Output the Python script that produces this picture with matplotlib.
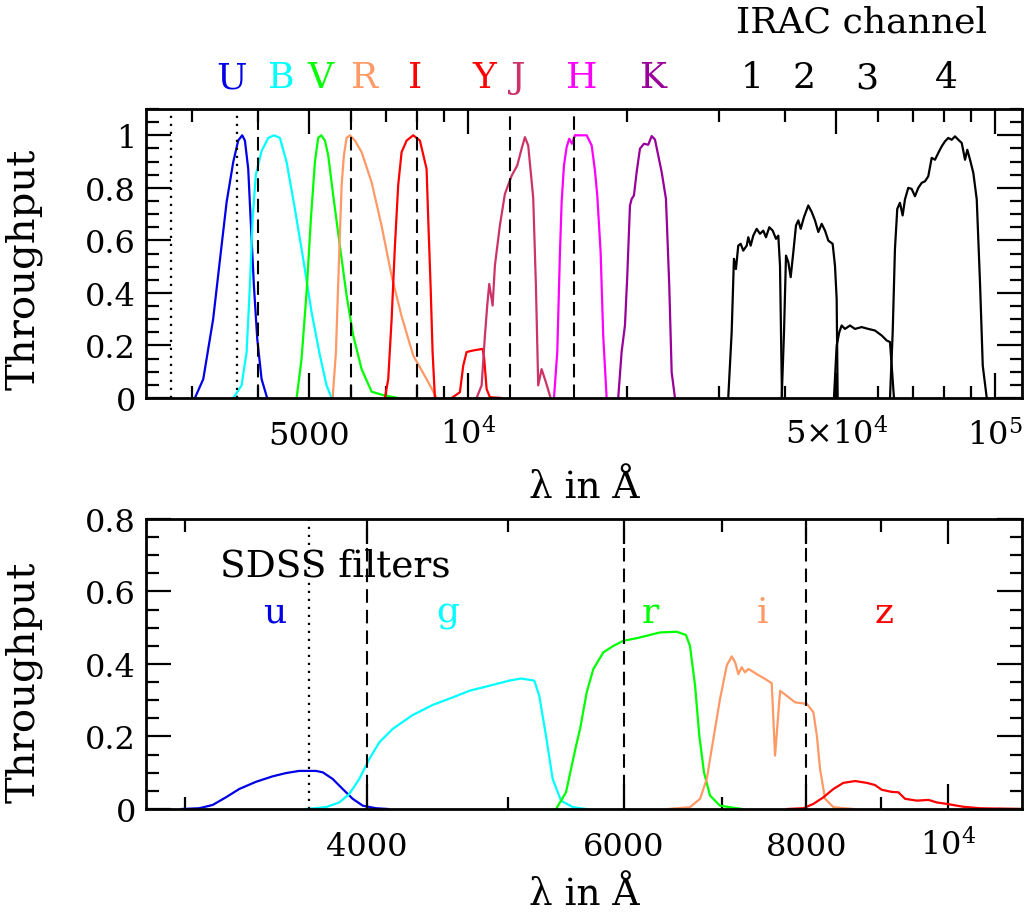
"""Broadband filter throughput curves: UBVRIYJHK + IRAC (top), SDSS ugriz (bottom)."""

import matplotlib
matplotlib.use("Agg")
import matplotlib.pyplot as plt
import matplotlib.transforms as mtransforms
from matplotlib.ticker import NullFormatter

plt.rcParams["font.family"] = ["DejaVu Serif"]
plt.rcParams["mathtext.fontset"] = "dejavuserif"

# ---- top panel: Johnson/Cousins + NIR + IRAC (wavelength in Angstrom) ----
U_wave = [3034, 3147, 3286, 3409, 3485, 3587, 3666, 3730, 3775, 3830, 3870, 3926, 3984, 4060, 4160]
U_thru = [0, 0.072, 0.301, 0.580, 0.746, 0.898, 0.980, 1.0, 0.98, 0.872, 0.682, 0.428, 0.225, 0.072, 0]

B_wave = [3587, 3720, 3803, 3858, 3904, 3960, 4060, 4180, 4285, 4399, 4529, 4696, 4869, 5051, 5238, 5393, 5513]
B_thru = [0, 0.048, 0.175, 0.428, 0.682, 0.851, 0.94, 0.99, 1.0, 0.99, 0.898, 0.72, 0.53, 0.327, 0.162, 0.048, 0]

V_wave = [4732, 4835, 4942, 5036, 5125, 5198, 5268, 5355, 5432, 5552, 5715, 5886, 6059, 6285, 6566, 6907, 7374]
V_thru = [0, 0.15, 0.403, 0.682, 0.898, 0.99, 1.0, 0.98, 0.923, 0.771, 0.58, 0.39, 0.238, 0.11, 0.024, 0.011, 0]

R_wave = [5538, 5618, 5700, 5760, 5817, 5886, 5972, 6104, 6285, 6566, 6859, 7166, 7485, 7874, 8348, 8723]
R_thru = [0, 0.175, 0.555, 0.81, 0.923, 0.99, 1.0, 0.98, 0.936, 0.821, 0.655, 0.464, 0.311, 0.162, 0.072, 0]

I_wave = [6958, 7060, 7166, 7270, 7374, 7485, 7651, 7874, 8108, 8348, 8408, 8495, 8570, 8658]
I_thru = [0, 0.072, 0.301, 0.58, 0.81, 0.936, 0.98, 1.0, 0.98, 0.872, 0.682, 0.428, 0.175, 0]

Y_wave = [9313, 9656, 9797, 9943, 10235, 10664, 10738, 10851, 11008, 11586]
Y_thru = [0, 0.022, 0.123, 0.175, 0.181, 0.187, 0.149, 0.034, 0.003, 0]

J_wave = [10387, 10617, 10772, 10880, 10976, 11140, 11251, 11499, 11754, 12105,
          12403, 12644, 12828, 13014, 13301, 13459, 13595, 13798, 14060, 14352]
J_thru = [0, 0.048, 0.238, 0.352, 0.434, 0.352, 0.504, 0.657, 0.777, 0.846,
          0.885, 0.949, 0.993, 0.961, 0.762, 0.428, 0.048, 0.11, 0.06, 0]

H_wave = [14565, 14775, 14950, 15060, 15213, 15392, 15567, 15751, 15959, 16801,
          17173, 17418, 17597, 17856, 18059, 18331]
H_thru = [0, 0.175, 0.555, 0.746, 0.885, 0.955, 0.987, 0.968, 1.0, 1.0,
          0.961, 0.866, 0.771, 0.555, 0.238, 0]

K_wave = [19283, 19570, 19860, 20062, 20299, 20451, 20654, 20899, 21203, 21577,
          21985, 22316, 22639, 22969, 23313, 23755, 24099, 24353, 24708]
K_thru = [0, 0.175, 0.277, 0.467, 0.733, 0.758, 0.771, 0.86, 0.949, 0.968,
          0.964, 0.997, 0.984, 0.923, 0.86, 0.758, 0.428, 0.098, 0]

IRAC1_wave = [31182, 31652, 31968, 32249, 32578, 32924, 33298, 33800, 34035, 34390, 34788,
              35305, 35821, 36338, 36774, 37306, 37868, 38415, 38805, 39094, 39265, 39437]
IRAC1_thru = [0, 0.25, 0.53, 0.491, 0.58, 0.587, 0.561, 0.58, 0.612, 0.58, 0.618,
              0.644, 0.625, 0.637, 0.612, 0.65, 0.637, 0.606, 0.618, 0.504, 0.25, 0]

IRAC2_wave = [39385, 39784, 40134, 40540, 40962, 41436, 41926, 42352, 42794, 43418, 44237,
              44903, 45553, 46217, 46904, 47591, 48287, 49204, 49706, 50074, 50294]
IRAC2_thru = [0, 0.25, 0.542, 0.517, 0.46, 0.555, 0.657, 0.676, 0.644, 0.689, 0.733,
              0.708, 0.676, 0.632, 0.663, 0.637, 0.599, 0.587, 0.504, 0.377, 0]

IRAC3_wave = [49487, 50074, 50642, 51179, 51933, 53079, 54244, 55847, 57489, 59190,
              60954, 62301, 63213, 63681, 64316]
IRAC3_thru = [0, 0.199, 0.25, 0.276, 0.263, 0.276, 0.263, 0.27, 0.263, 0.257,
              0.238, 0.219, 0.213, 0.123, 0]

IRAC4_wave = [63213, 63961, 64598, 65252, 66022, 66802, 67483, 68469, 69485, 70500,
              71532, 72594, 73659, 74720, 75846, 76940, 78063, 79239, 80380, 81555,
              82764, 83975, 85204, 86472, 87736, 88610, 89675, 90967, 92339, 93669,
              94798, 96466]
IRAC4_thru = [0, 0.25, 0.568, 0.72, 0.743, 0.695, 0.756, 0.8, 0.796, 0.768,
              0.8, 0.819, 0.825, 0.844, 0.914, 0.907, 0.933, 0.958, 0.977, 0.99,
              0.983, 0.996, 0.983, 0.971, 0.907, 0.945, 0.907, 0.857, 0.756, 0.438,
              0.123, 0]

top_names = ["U", "B", "V", "R", "I", "Y", "J", "H", "K"]
top_colors = ["#0000e6", "#00ffff", "#00ff00", "#ff9966", "#ff0000",
              "#ff0000", "#cc3366", "#ff00ff", "#990099"]
top_label_pos = [3566, 4418, 5261, 6376, 7932, 10724, 12439, 16456, 22534]
irac_names = ["1", "2", "3", "4"]
irac_label_pos = [34588, 43404, 57160, 80724]

top_dotted = [2730, 3645]
top_dashed = [4000, 6000, 8000, 12000, 15900]

# ---- bottom panel: SDSS ----
u_wave = [2988, 3070, 3136, 3202, 3270, 3358, 3447, 3520, 3595, 3691, 3731, 3789,
          3850, 3911, 3974, 4058, 4133]
u_thru = [0, 0.002, 0.011, 0.032, 0.055, 0.075, 0.09, 0.099, 0.105, 0.105, 0.101, 0.083,
          0.055, 0.028, 0.009, 0.002, 0]

g_wave = [3634, 3750, 3829, 3890, 3952, 4015, 4079, 4166, 4299, 4437, 4580, 4701,
          4852, 5007, 5100, 5208, 5249, 5305, 5361, 5432, 5534, 5651]
g_thru = [0, 0.005, 0.018, 0.041, 0.083, 0.138, 0.184, 0.221, 0.259, 0.287, 0.308, 0.326,
          0.34, 0.354, 0.36, 0.354, 0.312, 0.202, 0.083, 0.023, 0.005, 0]

r_wave = [5390, 5475, 5563, 5598, 5657, 5716, 5807, 5900, 5993, 6121, 6219,
          6350, 6519, 6615, 6657, 6711, 6756, 6806, 6871, 6980, 7222]
r_thru = [0, 0.046, 0.175, 0.221, 0.322, 0.386, 0.432, 0.45, 0.464, 0.471, 0.478,
          0.487, 0.489, 0.48, 0.45, 0.34, 0.202, 0.101, 0.037, 0.009, 0]

i_wave = [6434, 6657, 6764, 6836, 6907, 6980, 7055, 7110, 7148, 7185, 7222, 7261, 7299, 7338,
          7396, 7493, 7573, 7613, 7674, 7756, 7858, 8004, 8087, 8132, 8173, 8238, 8346, 8613]
i_thru = [0, 0.005, 0.028, 0.083, 0.193, 0.303, 0.396, 0.421, 0.405, 0.372, 0.391, 0.377, 0.386, 0.381,
          0.372, 0.359, 0.347, 0.147, 0.326, 0.312, 0.294, 0.29, 0.267, 0.202, 0.11, 0.028, 0.005, 0]

z_wave = [7760, 7960, 8087, 8215, 8346, 8479, 8637, 8799, 8913, 9008,
          9152, 9247, 9346, 9520, 9697, 9824, 9982, 10245, 10520, 11204]
z_thru = [0, 0.002, 0.014, 0.032, 0.055, 0.072, 0.077, 0.072, 0.066, 0.053,
          0.047, 0.046, 0.028, 0.023, 0.025, 0.018, 0.014, 0.006, 0.002, 0]

sdss_names = ["u", "g", "r", "i", "z"]
sdss_colors = ["#0000e6", "#00ffff", "#00ff00", "#ff9966", "#ff0000"]
sdss_label_pos = [3460, 4546, 6251, 7459, 9042]

bot_dotted = [3650]
bot_dashed = [4000, 6000, 8000]

LABEL_FS = 26
YLABEL_FS = 29
TICK_FS = 23
DOTTED = (0, (1, 2.6))
DASHED = (0, (6.5, 3.4))


def style_axes(ax):
    for s in ax.spines.values():
        s.set_linewidth(2)
    ax.tick_params(which="both", direction="in", top=True, right=True, width=1.6,
                   labelsize=TICK_FS)
    ax.tick_params(which="major", length=18)
    ax.tick_params(which="minor", length=9)
    ax.tick_params(axis="x", which="major", pad=33)
    ax.tick_params(axis="y", which="major", pad=7)
    ax.xaxis.set_minor_formatter(NullFormatter())


fig = plt.figure(figsize=(10.33, 9.2), dpi=100)
ax1 = fig.add_axes([0.1413, 0.5663, 0.8480, 0.3141])
ax2 = fig.add_axes([0.1413, 0.1196, 0.8480, 0.3152])

# ---- top ----
top_curves = [(U_wave, U_thru), (B_wave, B_thru), (V_wave, V_thru), (R_wave, R_thru),
              (I_wave, I_thru), (Y_wave, Y_thru), (J_wave, J_thru), (H_wave, H_thru),
              (K_wave, K_thru)]
for (w, t), c in zip(top_curves, top_colors):
    ax1.plot(w, t, color=c, lw=1.6)
for w, t in [(IRAC1_wave, IRAC1_thru), (IRAC2_wave, IRAC2_thru),
             (IRAC3_wave, IRAC3_thru), (IRAC4_wave, IRAC4_thru)]:
    ax1.plot(w, t, color="black", lw=1.6)
for x in top_dotted:
    ax1.axvline(x, color="black", lw=1.6, ls=DOTTED)
for x in top_dashed:
    ax1.axvline(x, color="black", lw=1.5, ls=DASHED)

ax1.set_xscale("log")
ax1.set_xlim(2450, 112500)
ax1.set_ylim(0, 1.1)
style_axes(ax1)
ax1.set_xticks([5000, 1e4, 5e4, 1e5],
               ["5000", r"$10^4$", r"$5{\times}10^4$", r"$10^5$"], va="baseline")
ax1.set_xticks([3000, 4000, 6000, 7000, 8000, 9000, 2e4, 3e4, 4e4, 6e4, 7e4, 8e4, 9e4],
               minor=True)
ax1.xaxis.set_minor_formatter(NullFormatter())
ax1.set_yticks([0, 0.2, 0.4, 0.6, 0.8, 1.0], ["0", "0.2", "0.4", "0.6", "0.8", "1"])
ax1.set_yticks([k * 0.05 for k in range(23)], minor=True)
ax1.set_ylabel("Throughput", fontsize=YLABEL_FS)
ax1.yaxis.set_label_coords(-0.118, 0.45)
ax1.text(0.5, -0.308, "λ in Å", transform=ax1.transAxes, ha="center", va="center",
         fontsize=27)

trans1 = mtransforms.blended_transform_factory(ax1.transData, ax1.transAxes)
for name, c, x in zip(top_names, top_colors, top_label_pos):
    ax1.text(x, 1.076, name, color=c, transform=trans1, ha="center", va="baseline",
             fontsize=LABEL_FS, clip_on=False)
for name, x in zip(irac_names, irac_label_pos):
    ax1.text(x, 1.076, name, color="black", transform=trans1, ha="center", va="baseline",
             fontsize=LABEL_FS, clip_on=False)
ax1.text(55900, 1.27, "IRAC channel", transform=trans1, ha="center", va="baseline",
         fontsize=LABEL_FS, clip_on=False)

# ---- bottom ----
for (w, t), c in zip([(u_wave, u_thru), (g_wave, g_thru), (r_wave, r_thru),
                      (i_wave, i_thru), (z_wave, z_thru)], sdss_colors):
    ax2.plot(w, t, color=c, lw=1.6)
for x in bot_dotted:
    ax2.axvline(x, color="black", lw=1.6, ls=DOTTED)
for x in bot_dashed:
    ax2.axvline(x, color="black", lw=1.5, ls=DASHED)

ax2.set_xscale("log")
ax2.set_xlim(2823, 11237)
ax2.set_ylim(0, 0.8)
style_axes(ax2)
ax2.set_xticks([4000, 6000, 8000, 1e4], ["4000", "6000", "8000", r"$10^4$"], va="baseline")
ax2.set_xticks([3000, 5000, 7000, 9000], minor=True)
ax2.xaxis.set_minor_formatter(NullFormatter())
ax2.set_yticks([0, 0.2, 0.4, 0.6, 0.8], ["0", "0.2", "0.4", "0.6", "0.8"])
ax2.set_yticks([k * 0.05 for k in range(17)], minor=True)
ax2.set_ylabel("Throughput", fontsize=YLABEL_FS)
ax2.yaxis.set_label_coords(-0.118, 0.44)
ax2.text(0.5, -0.293, "λ in Å", transform=ax2.transAxes, ha="center", va="center",
         fontsize=27)

ax2.text(3172, 0.643, "SDSS filters", ha="left", va="baseline", fontsize=27)
for name, c, x in zip(sdss_names, sdss_colors, sdss_label_pos):
    ax2.text(x, 0.516, name, color=c, ha="center", va="baseline", fontsize=LABEL_FS)

fig.savefig("out.png", dpi=100)
plt.close(fig)
